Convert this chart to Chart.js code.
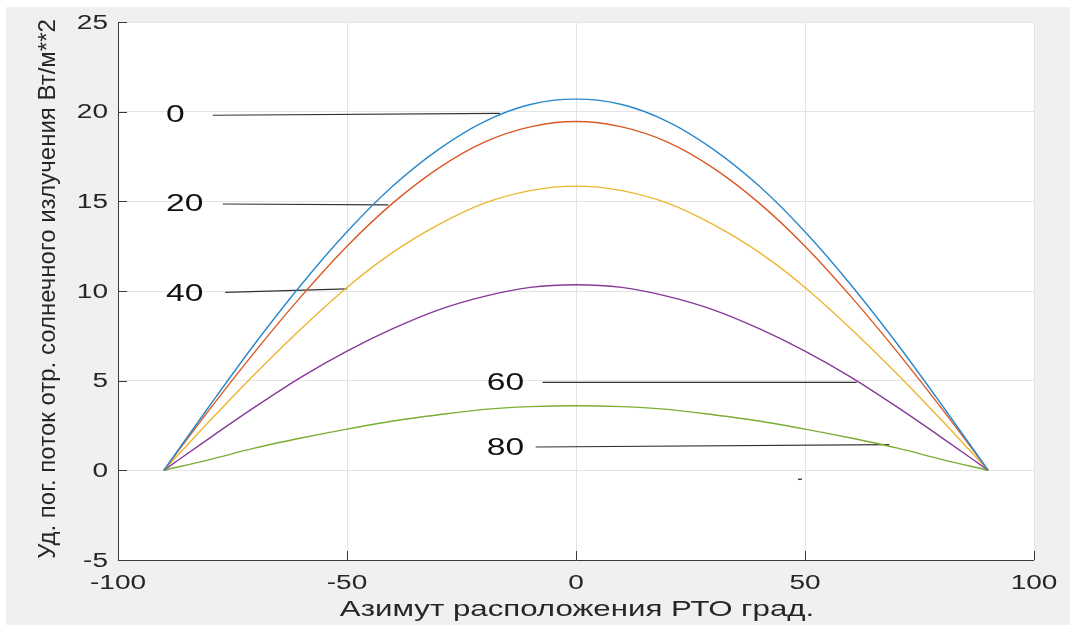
<!DOCTYPE html>
<html>
<head>
<meta charset="utf-8">
<script src="https://cdn.jsdelivr.net/npm/chart.js@4.4.1/dist/chart.umd.min.js"></script>
<style>
  body { margin: 0; background: #fff; }
  canvas { display: block; }
</style>
</head>
<body>
<canvas id="fluxChart" width="1070" height="627"></canvas>
<script>
// azimuth of the panel, degrees
const azimuth = [-90, -80, -70, -60, -50, -40, -30, -20, -10, 0, 10, 20, 30, 40, 50, 60, 70, 80, 90];

// reflected solar flux for each elevation angle
const flux0  = [0, 3.6, 7.1, 10.35, 13.3, 15.85, 17.9, 19.45, 20.4, 20.7, 20.4, 19.45, 17.9, 15.85, 13.3, 10.35, 7.1, 3.6, 0];
const flux20 = [0, 3.4, 6.65, 9.7, 12.5, 14.9, 16.85, 18.3, 19.15, 19.45, 19.15, 18.3, 16.85, 14.9, 12.5, 9.7, 6.65, 3.4, 0];
const flux40 = [0, 2.75, 5.4, 7.9, 10.2, 12.15, 13.7, 14.9, 15.6, 15.85, 15.6, 14.9, 13.7, 12.15, 10.2, 7.9, 5.4, 2.75, 0];
const flux60 = [0, 1.8, 3.55, 5.2, 6.65, 7.9, 8.95, 9.7, 10.2, 10.35, 10.2, 9.7, 8.95, 7.9, 6.65, 5.2, 3.55, 1.8, 0];
const flux80 = [0, 0.6, 1.25, 1.8, 2.3, 2.75, 3.1, 3.4, 3.55, 3.6, 3.55, 3.4, 3.1, 2.75, 2.3, 1.8, 1.25, 0.6, 0];

// elevation labels and their leader lines (data coordinates)
const elevLabels = ['0', '20', '40', '60', '80'];
const labelX  = [-89.5, -89.5, -89.5, -19.5, -19.5];
const labelY  = [19.86, 14.88, 9.88, 4.9, 1.28];
const leaderX1 = [-79.3, -77.1, -76.6, -7.3, -8.8];
const leaderY1 = [19.8, 14.85, 9.92, 4.91, 1.3];
const leaderX2 = [-16.6, -41.0, -50.0, 61.3, 68.4];
const leaderY2 = [19.9, 14.8, 10.12, 4.9, 1.43];

const xTicks = [-100, -50, 0, 50, 100];
const yTicks = [-5, 0, 5, 10, 15, 20, 25];

const xTitle = 'Азимут расположения РТО град.';
const yTitle = 'Уд. пог. поток отр. солнечного излучения Вт/м**2';

const colors = ['#2a88cc', '#da5a25', '#eeb530', '#88399a', '#7aae35'];
const seriesList = [flux0, flux20, flux40, flux60, flux80];

const FONT = '"Liberation Sans", Arial, sans-serif';

function toPoints(xs, ys) {
    return xs.map((x, i) => ({ x: x, y: ys[i] }));
}

const datasets = [];
seriesList.forEach((s, i) => {
    datasets.push({
        data: toPoints(azimuth, s),
        borderColor: colors[i],
        borderWidth: 1.4,
        pointRadius: 0,
        cubicInterpolationMode: 'monotone',
        fill: false
    });
});
elevLabels.forEach((lab, i) => {
    datasets.push({
        data: [{ x: leaderX1[i], y: leaderY1[i] }, { x: leaderX2[i], y: leaderY2[i] }],
        borderColor: '#333333',
        borderWidth: 1.2,
        pointRadius: 0,
        tension: 0,
        fill: false
    });
});
// small stray mark below the axis line
datasets.push({
    data: [{ x: 48.9, y: -0.5 }],
    showLine: false,
    pointStyle: 'line',
    pointRadius: 2,
    borderColor: '#444',
    borderWidth: 1.5
});

// draw text squeezed or widened horizontally
function stretchedText(ctx, text, x, y, size, sx, align, color) {
    ctx.save();
    ctx.font = size + 'px ' + FONT;
    ctx.fillStyle = color;
    ctx.textBaseline = 'middle';
    ctx.textAlign = align;
    ctx.translate(x, y);
    ctx.scale(sx, 1);
    ctx.fillText(text, 0, 0);
    ctx.restore();
}

const frame = {
    id: 'frame',
    beforeDraw(chart) {
        const { ctx, chartArea: a } = chart;
        ctx.save();
        ctx.fillStyle = '#ffffff';
        ctx.fillRect(0, 0, chart.width, chart.height);
        ctx.fillStyle = '#f0f0f0';
        ctx.fillRect(6, 7, chart.width - 6, 618);
        ctx.fillStyle = '#ffffff';
        ctx.fillRect(a.left, a.top, a.right - a.left, a.bottom - a.top);
        ctx.restore();
    },
    afterDraw(chart) {
        const { ctx, chartArea: a } = chart;
        const xs = chart.scales.x, ys = chart.scales.y;
        ctx.save();
        ctx.strokeStyle = '#3a3a3a';
        ctx.lineWidth = 1;
        ctx.beginPath();
        ctx.moveTo(a.left + 0.5, a.top);
        ctx.lineTo(a.left + 0.5, a.bottom + 0.5);
        ctx.lineTo(a.right, a.bottom + 0.5);
        ctx.stroke();
        // inward ticks
        ctx.beginPath();
        yTicks.forEach(v => {
            const py = Math.round(ys.getPixelForValue(v)) + 0.5;
            ctx.moveTo(a.left, py);
            ctx.lineTo(a.left + 9, py);
        });
        xTicks.forEach(v => {
            const px = Math.round(xs.getPixelForValue(v)) + 0.5;
            ctx.moveTo(px, a.bottom);
            ctx.lineTo(px, a.bottom - 9);
        });
        ctx.stroke();
        ctx.restore();

        yTicks.forEach(v => {
            stretchedText(ctx, String(v), a.left - 10, ys.getPixelForValue(v) + 1, 20, 1.4, 'right', '#262626');
        });
        xTicks.forEach(v => {
            stretchedText(ctx, String(v), xs.getPixelForValue(v), a.bottom + 23, 20, 1.4, 'center', '#262626');
        });

        elevLabels.forEach((lab, i) => {
            stretchedText(ctx, lab, xs.getPixelForValue(labelX[i]), ys.getPixelForValue(labelY[i]) + 1, 24, 1.4, 'left', '#111111');
        });

        // axis titles
        stretchedText(ctx, xTitle, (a.left + a.right) / 2 + 1, 610, 22, 1.42, 'center', '#262626');
        ctx.save();
        ctx.font = '24px ' + FONT;
        ctx.fillStyle = '#262626';
        ctx.textAlign = 'center';
        ctx.textBaseline = 'middle';
        ctx.translate(48, (a.top + a.bottom) / 2 - 2);
        ctx.rotate(-Math.PI / 2);
        ctx.fillText(yTitle, 0, 0);
        ctx.restore();
    }
};

new Chart(document.getElementById('fluxChart'), {
    type: 'line',
    data: { datasets: datasets },
    options: {
        responsive: false,
        animation: false,
        layout: { padding: { left: 118, top: 22, right: 36, bottom: 67 } },
        plugins: { legend: { display: false }, tooltip: { enabled: false } },
        scales: {
            x: {
                type: 'linear',
                min: -100,
                max: 100,
                ticks: { stepSize: 50, display: false },
                grid: { color: '#e4e4e4', drawTicks: false },
                border: { display: false },
                afterFit(scale) { scale.height = 0; }
            },
            y: {
                min: -5,
                max: 25,
                ticks: { stepSize: 5, display: false },
                grid: { color: '#e4e4e4', drawTicks: false },
                border: { display: false },
                afterFit(scale) { scale.width = 0; }
            }
        }
    },
    plugins: [frame]
});
</script>
</body>
</html>
